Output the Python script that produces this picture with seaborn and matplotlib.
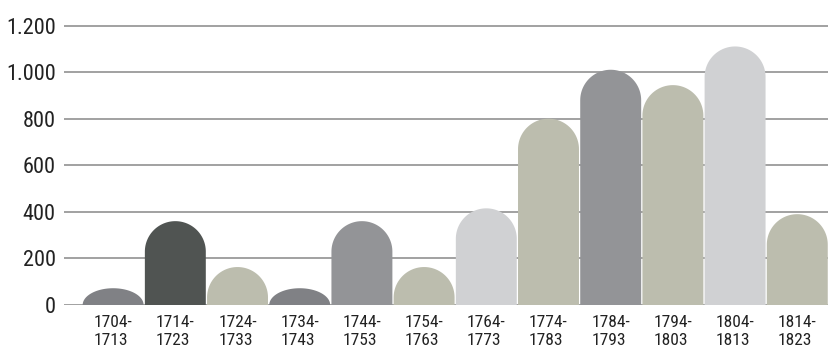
import numpy as np
import pandas as pd
import matplotlib
matplotlib.use("Agg")
import matplotlib.pyplot as plt
from matplotlib.path import Path
from matplotlib.patches import PathPatch
import seaborn as sns

# --- Data ---
periods = ["1704-\n1713", "1714-\n1723", "1724-\n1733", "1734-\n1743",
           "1744-\n1753", "1754-\n1763", "1764-\n1773", "1774-\n1783",
           "1784-\n1793", "1794-\n1803", "1804-\n1813", "1814-\n1823"]
counts = [72, 360, 163, 72, 360, 163, 415, 800, 1010, 944, 1110, 390]
bar_colors = ["#808185", "#505452", "#bcbdae", "#808185", "#939497", "#bcbdae",
              "#d0d1d3", "#bcbdae", "#939497", "#bcbdae", "#d0d1d3", "#bcbdae"]
y_ticks = [0, 200, 400, 600, 800, 1000, 1200]
y_tick_labels = ["0", "200", "400", "600", "800", "1.000", "1.200"]

df = pd.DataFrame({"period": periods, "count": counts})

sns.set_theme(style="white")
plt.rcParams["font.family"] = ["Roboto Condensed", "Liberation Sans Narrow", "DejaVu Sans"]

W, H = 829, 350
fig = plt.figure(figsize=(W / 100, H / 100), dpi=100)
ymax = 1230
px_per_unit = (305 - 25.5) / 1200
ax_h = ymax * px_per_unit
ax = fig.add_axes([64 / W, 45 / H, (W - 64) / W, ax_h / H])

sns.barplot(data=df, x="period", y="count", hue="period", palette=bar_colors,
            width=0.98, legend=False, ax=ax, saturation=1)

ax.set_xlim(-0.79, 11.51)
ax.set_ylim(0, ymax)

# horizontal gridlines
for t in y_ticks:
    ax.axhline(t, color="#9a9a9a", lw=1.3, zorder=0)

# --- Replace flat bars with round-capped ones ---
fig.canvas.draw()
ppx = ax.transData.transform([[1, 0]])[0][0] - ax.transData.transform([[0, 0]])[0][0]
ppy = ax.transData.transform([[0, 1]])[0][1] - ax.transData.transform([[0, 0]])[0][1]
for p in list(ax.patches):
    x0, w, h = p.get_x(), p.get_width(), p.get_height()
    col = p.get_facecolor()
    p.set_visible(False)
    rx = w / 2
    ry = min(h, rx * ppx / ppy)
    cx = x0 + rx
    theta = np.linspace(np.pi, 0, 60)
    arc = np.column_stack([cx + rx * np.cos(theta), h - ry + ry * np.sin(theta)])
    verts = np.vstack([[x0, 0], [x0, h - ry], arc, [x0 + w, h - ry], [x0 + w, 0], [x0, 0]])
    codes = [Path.MOVETO] + [Path.LINETO] * (len(verts) - 2) + [Path.CLOSEPOLY]
    ax.add_patch(PathPatch(Path(verts, codes), facecolor=col, edgecolor="none", zorder=2))

ax.set_yticks(y_ticks)
ax.set_yticklabels(y_tick_labels, fontsize=16, color="#222222")
ax.set_xticks(range(len(periods)))
ax.set_xticklabels(periods, fontsize=12.5, color="#222222", linespacing=1.3)
for lab in ax.get_xticklabels():
    lab.set_multialignment("left")
ax.tick_params(axis="y", length=0, pad=6)
ax.tick_params(axis="x", length=0, pad=7)
ax.set_xlabel("")
ax.set_ylabel("")
sns.despine(ax=ax, left=True, bottom=True, top=True, right=True)

fig.savefig("out.png", dpi=100)
